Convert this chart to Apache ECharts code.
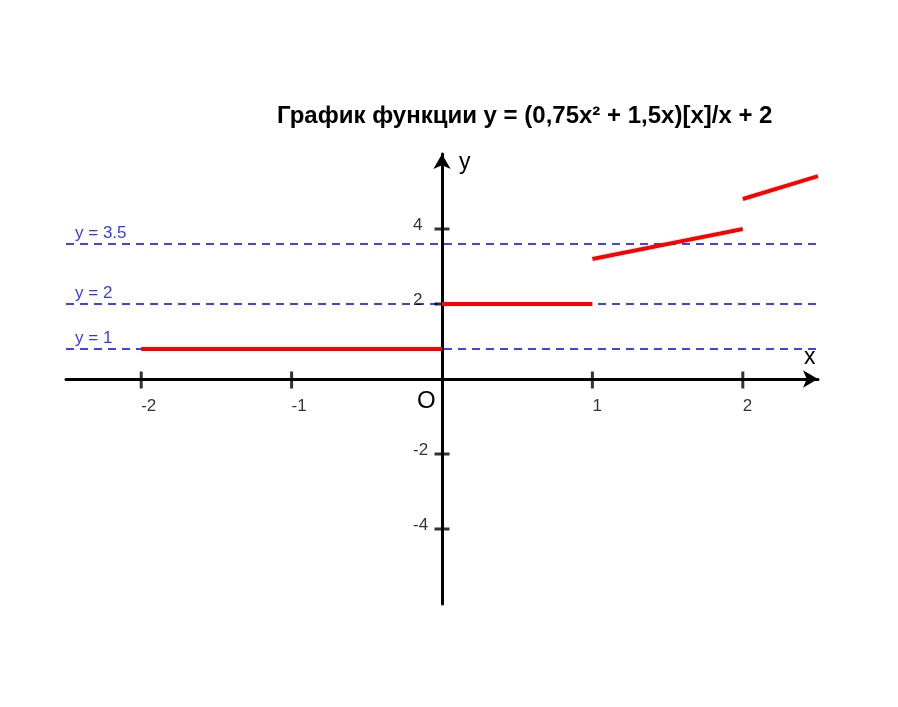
<!DOCTYPE html>
<html>
<head>
<meta charset="utf-8">
<script src="https://cdn.jsdelivr.net/npm/echarts@6/dist/echarts.min.js"></script>
<style>html,body{margin:0;padding:0;background:#fff}#c{width:898px;height:707px}</style>
</head>
<body>
<div id="c"></div>
<script>
// ---- data ----
var titleText = 'График функции y = (0,75x² + 1,5x)[x]/x + 2';
var xTickValues = [-2, -1, 1, 2];
var xTickLabels = ['-2', '-1', '1', '2'];
var yTickValues = [-4, -2, 2, 4];
var yTickLabels = ['-4', '-2', '2', '4'];
var segment1 = [[-2, 0.8], [0, 0.8]];
var segment2 = [[0, 2], [1, 2]];
var segment3 = [[1, 3.2], [2, 4.0]];
var segment4 = [[2, 4.8], [2.5, 5.41]];
var guideValues = [3.6, 2, 0.8];
var guideLabels = ['y = 3.5', 'y = 2', 'y = 1'];

var FONT = '"Liberation Sans", Arial, sans-serif';
var series = [];
guideValues.forEach(function (v, i) {
  series.push({
    type: 'line', data: [[-2.5, v], [2.5, v]], symbol: 'none', silent: true,
    lineStyle: { color: '#0000ff', width: 1.5, type: [8, 6] }, z: 2
  });
  series.push({
    type: 'scatter', data: [[-2.44, v]], symbolSize: 1, itemStyle: { color: 'rgba(0,0,0,0)' }, silent: true,
    label: { show: true, position: 'inside', align: 'left', verticalAlign: 'middle', offset: [0, -11],
      formatter: guideLabels[i], color: '#0000ff', fontSize: 17, fontFamily: FONT }
  });
});
[segment1, segment2, segment3, segment4].forEach(function (seg) {
  series.push({ type: 'line', data: seg, symbol: 'none', silent: true,
    lineStyle: { color: '#ff0000', width: 4 }, z: 5 });
});
// x ticks + labels
series.push({ type: 'scatter', silent: true, symbol: 'rect', symbolSize: [3, 17], symbolOffset: [0, 1],
  data: xTickValues.map(function (v) { return [v, 0]; }), itemStyle: { color: '#000' }, z: 3,
  label: { show: true, position: 'inside', align: 'left', verticalAlign: 'middle', offset: [0, 26],
    formatter: function (p) { return xTickLabels[p.dataIndex]; }, color: '#000', fontSize: 17, fontFamily: FONT } });
// y ticks + labels
series.push({ type: 'scatter', silent: true, symbol: 'rect', symbolSize: [15, 3],
  data: yTickValues.map(function (v) { return [0, v]; }), itemStyle: { color: '#000' }, z: 3,
  label: { show: true, position: 'inside', align: 'left', verticalAlign: 'middle', offset: [-29, -4],
    formatter: function (p) { return yTickLabels[p.dataIndex]; }, color: '#000', fontSize: 17, fontFamily: FONT } });

var chart = echarts.init(document.getElementById('c'));
chart.setOption({
  animation: false,
  title: { text: titleText, left: 272, top: 99,
    textStyle: { fontFamily: FONT, fontSize: 24, fontWeight: 'bold', color: '#000' } },
  grid: { left: 66, right: 80, top: 154, bottom: 103 },
  xAxis: {
    type: 'value', min: -2.5, max: 2.5, interval: 0.5,
    splitLine: { show: false },
    axisLine: { onZero: true, symbol: ['none', 'arrow'], symbolSize: [13, 15],
      lineStyle: { color: '#000', width: 3 } },
    axisTick: { show: false },
    axisLabel: { show: false }
  },
  yAxis: {
    type: 'value', min: -6, max: 6, interval: 2,
    splitLine: { show: false },
    axisLine: { onZero: true, symbol: ['none', 'arrow'], symbolSize: [13, 15],
      lineStyle: { color: '#000', width: 3 } },
    axisTick: { show: false },
    axisLabel: { show: false }
  },
  graphic: [
    { type: 'text', left: 417, top: 389, style: { text: 'O', fontSize: 24, fontFamily: FONT, fill: '#000' } },
    { type: 'text', left: 804, top: 346, style: { text: 'x', fontSize: 23, fontFamily: FONT, fill: '#000' } },
    { type: 'text', left: 459, top: 151, style: { text: 'y', fontSize: 23, fontFamily: FONT, fill: '#000' } }
  ],
  series: series
});
</script>
</body>
</html>
